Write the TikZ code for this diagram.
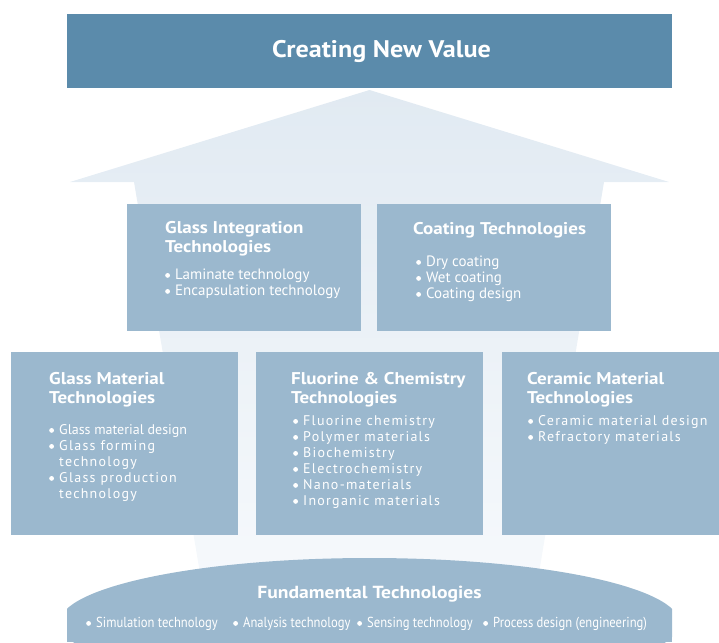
\documentclass[tikz,border=0pt]{standalone}
\usepackage{fontspec}
\setmainfont{PT Sans}
\newfontfamily\ttlfont[FakeStretch=1.12]{PT Sans}
\newfontfamily\topfont[FakeStretch=1.09]{PT Sans}
\newfontfamily\widefont[LetterSpace=9]{PT Sans}
\newfontfamily\condfont[FakeStretch=0.87]{PT Sans}
\definecolor{topblue}{HTML}{5B8BAB}
\definecolor{boxblue}{HTML}{9BB8CE}
\definecolor{arrowtop}{HTML}{E1EAF2}
\definecolor{arrowbot}{HTML}{F6F9FC}
\newcommand\bul{\makebox[10pt][l]{\tikz[baseline=0pt]\fill[white] (2.4pt,3.6pt) circle (2.4pt);}}
\newcommand\cont{\hspace*{10pt}}
\tikzset{
  techbox/.style={fill=boxblue, draw=none, inner sep=0, outer sep=0, anchor=north west},
  ttl/.style={anchor=base west, inner sep=0, text=white, font=\fontsize{17}{19}\selectfont\ttlfont\bfseries},
  lst/.style={anchor=base west, inner sep=0, text=white, font=\fontsize{15}{16}\selectfont},
  wlst/.style={anchor=base west, inner sep=0, text=white, font=\fontsize{14}{16}\selectfont\widefont},
  clst/.style={anchor=base west, inner sep=0, text=white, font=\fontsize{14.5}{16}\selectfont\condfont},
}
\begin{document}
\begin{tikzpicture}[x=1pt,y=-1pt]
\useasboundingbox (0,0) rectangle (719,642);
% top box
\node[fill=topblue, inner sep=0, outer sep=0, anchor=north west, minimum width=605, minimum height=74] (topbox) at (67,14) {};
\node[text=white, font=\fontsize{24}{26}\selectfont\topfont\bfseries, inner sep=0, anchor=base] (toptxt) at (381.5,57) {Creating New Value};
% arrow
\shade[top color=arrowtop, bottom color=arrowbot]
  (369.5,90) -- (669,182) -- (604,182) -- (537,585) -- (202,585) -- (134,182) -- (70,182) -- cycle;
% upper boxes
\node[techbox, minimum width=234, minimum height=127] (gi) at (127,204) {};
\node[techbox, minimum width=234, minimum height=127] (ct) at (377,204) {};
% lower boxes
\node[techbox, minimum width=227, minimum height=183] (gm) at (11,352) {};
\node[techbox, minimum width=227, minimum height=183] (fc) at (256,352) {};
\node[techbox, minimum width=217, minimum height=183] (cm) at (502,352) {};
% bottom dome
\begin{scope}
  \clip (67,550) rectangle (672,642);
  \fill[boxblue] (369.5,623) ellipse [x radius=310, y radius=65];
  \fill[boxblue] (67,609) rectangle (672,642);
\end{scope}
% texts
\node[ttl] (gi-t) at (165,233) {\parbox[t]{200pt}{Glass Integration\\Technologies}};
\node[lst] (gi-l) at (165,279) {\parbox[t]{200pt}{\bul Laminate technology\\\bul Encapsulation technology}};
\node[ttl] (ct-t) at (413,234) {Coating Technologies};
\node[lst] (ct-l) at (416,266) {\parbox[t]{200pt}{\bul Dry coating\\\bul Wet coating\\\bul Coating design}};
\node[ttl] (gm-t) at (49,384) {\parbox[t]{200pt}{Glass Material\\Technologies}};
\node[wlst] (gm-l) at (49,434) {\parbox[t]{200pt}{\bul{\rmfamily Glass material design}\\\bul Glass forming\\\cont technology\\\bul Glass production\\\cont technology}};
\node[ttl] (fc-t) at (291,384) {\parbox[t]{200pt}{Fluorine \& Chemistry\\Technologies}};
\node[wlst] (fc-l) at (293,425) {\parbox[t]{200pt}{\bul Fluorine chemistry\\\bul Polymer materials\\\bul Biochemistry\\\bul Electrochemistry\\\bul Nano-materials\\\bul Inorganic materials}};
\node[ttl] (cm-t) at (527,384) {\parbox[t]{200pt}{Ceramic Material\\Technologies}};
\node[wlst] (cm-l) at (528,425) {\parbox[t]{200pt}{\bul Ceramic material design\\\bul Refractory materials}};
\node[text=white, font=\fontsize{17.5}{20}\selectfont\ttlfont\bfseries, inner sep=0, anchor=base] (fund) at (369.5,598) {Fundamental Technologies};
\node[clst] (b1) at (86,627) {\bul Simulation technology};
\node[clst] (b2) at (233,627) {\bul Analysis technology};
\node[clst] (b3) at (357,627) {\bul Sensing technology};
\node[clst] (b4) at (483,627) {\bul Process design (engineering)};
\end{tikzpicture}
\end{document}
